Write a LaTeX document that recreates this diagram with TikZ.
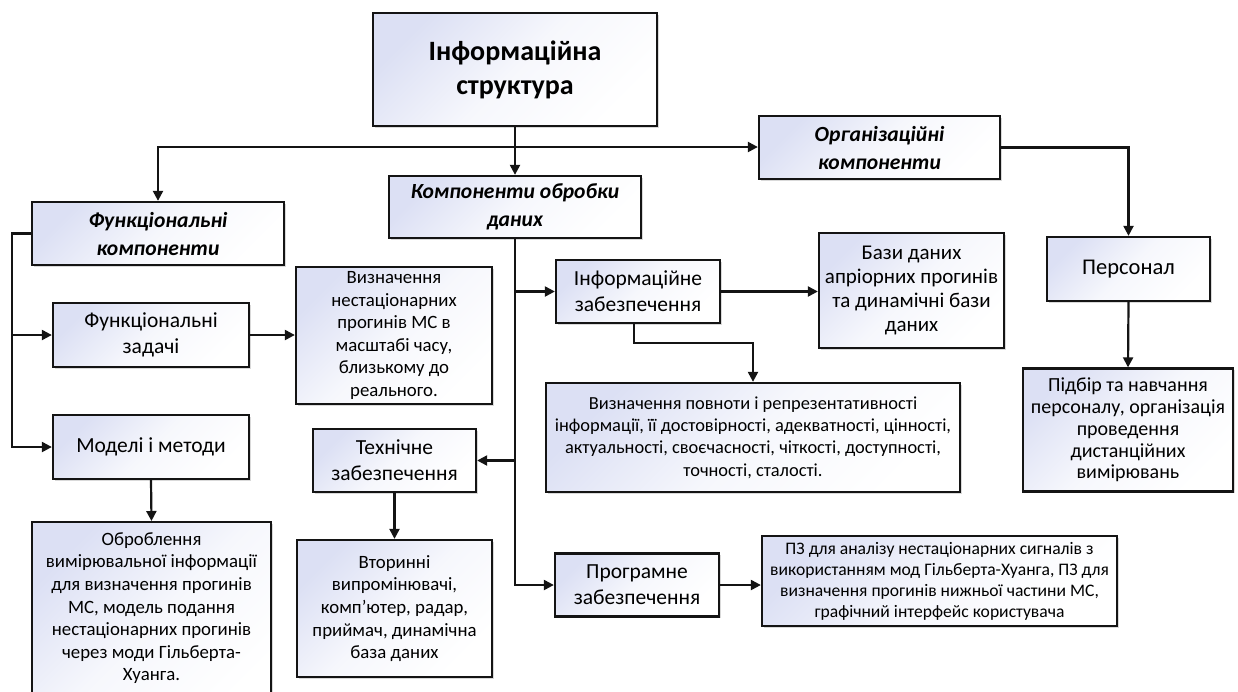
\documentclass[tikz,border=0pt]{standalone}
\usepackage{fontspec}
\setmainfont{Carlito}
\usetikzlibrary{arrows.meta,shadows}
\definecolor{boxtint}{RGB}{220,224,244}
\definecolor{edge}{RGB}{20,20,20}

\tikzset{
  box/.style={draw=edge, line width=2.3pt, top color=boxtint, bottom color=white,
    middle color=white!75!boxtint, shading angle=45, align=center, inner sep=1pt,
    drop shadow={shadow xshift=1.8pt, shadow yshift=-1.8pt, opacity=0.25, fill=black!60}},
  arr/.style={line width=2.2pt, draw=edge, -{Triangle[length=10pt,width=10pt]}},
  link/.style={line width=2.2pt, draw=edge},
  small/.style={font=\fontsize{18.8}{22.6}\selectfont},
  mid/.style={font=\fontsize{21.5}{26}\selectfont},
  head/.style={font=\fontsize{21.6}{28}\selectfont\bfseries\itshape},
  big/.style={font=\fontsize{28}{34}\selectfont\bfseries},
}

\begin{document}
\begin{tikzpicture}[x=1pt,y=-1pt]
\useasboundingbox (0,0) rectangle (1238,691);
\clip (0,0) rectangle (1238,691);

% top level
\node[box,big,minimum width=284pt,minimum height=113pt] (title) at (515,69.5) {Інформаційна\\структура};
\node[box,head,minimum width=252pt,minimum height=63pt] (fcomp) at (158,233.5) {Функціональні\\компоненти};
\node[box,head,minimum width=252pt,minimum height=62pt] (dcomp) at (515,207) {Компоненти обробки\\даних};
\node[box,head,minimum width=241pt,minimum height=63pt] (ocomp) at (879.5,147.5) {Організаційні\\компоненти};

% functional branch
\node[box,mid,minimum width=196pt,minimum height=64pt] (ftasks) at (151,335) {Функціональні\\задачі};
\node[box,small,minimum width=196pt,minimum height=137pt] (vyzn) at (394,335.5) {Визначення\\нестаціонарних\\прогинів МС в\\масштабі часу,\\близькому до\\реального.};
\node[box,mid,minimum width=196pt,minimum height=64pt] (models) at (151,447) {Моделі і методи};
\node[box,minimum width=239pt,minimum height=200pt,anchor=north] (obrob) at (151.5,521) {};
\node[small,align=center,anchor=north] (obrobtext) at ([yshift=-8pt]obrob.north) {Оброблення\\вимірювальної інформації\\для визначення прогинів\\МС, модель подання\\нестаціонарних прогинів\\через моди Гільберта-\\Хуанга.};

% data processing branch
\node[box,mid,minimum width=164pt,minimum height=63pt] (infoz) at (638,291.5) {Інформаційне\\забезпечення};
\node[box,font=\fontsize{21}{24}\selectfont,minimum width=185pt,minimum height=115pt] (bazy) at (911.5,290.5) {Бази даних\\апріорних прогинів\\та динамічні бази\\даних};
\node[box,font=\fontsize{18.4}{22.3}\selectfont,minimum width=414pt,minimum height=109pt] (povn) at (753,437.5) {Визначення повноти і репрезентативності\\інформації, її достовірності, адекватності, цінності,\\актуальності, своєчасності, чіткості, доступності,\\точності, сталості.};
\node[box,mid,minimum width=163pt,minimum height=63pt] (tech) at (394.5,460.5) {Технічне\\забезпечення};
\node[box,small,minimum width=195pt,minimum height=137pt] (vtor) at (394.5,608.5) {Вторинні\\випромінювачі,\\комп’ютер, радар,\\приймач, динамічна\\база даних};
\node[box,mid,minimum width=164pt,minimum height=63pt] (prog) at (637,585) {Програмне\\забезпечення};
\node[box,font=\fontsize{17.6}{21}\selectfont,minimum width=355pt,minimum height=90pt] (pz) at (939.5,581) {ПЗ для аналізу нестаціонарних сигналів з\\використанням мод Гільберта-Хуанга, ПЗ для\\визначення прогинів нижньої частини МС,\\графічний інтерфейс користувача};

% organisational branch
\node[box,font=\fontsize{22.5}{26}\selectfont,minimum width=163pt,minimum height=64pt] (pers) at (1128.5,269) {Персонал};
\node[box,font=\fontsize{20}{21.8}\selectfont,minimum width=210pt,minimum height=123pt] (pidb) at (1128,430) {Підбір та навчання\\персоналу, організація\\проведення\\дистанційних\\вимірювань};

% top bus
\coordinate (bus) at (515,147);
\draw[link] (title.south) -- (bus);
\draw[arr] (bus) -| (fcomp.north);
\draw[arr] (bus) -- (dcomp.north);
\draw[arr] (bus) -- (bus -| ocomp.west);

% functional branch links
\coordinate (lb) at (12,0);
\draw[arr] (fcomp.west) -- (fcomp.west -| lb) |- (models.west);
\draw[arr] (ftasks.west -| lb) -- (ftasks.west);
\draw[arr] (ftasks.east) -- (ftasks.east -| vyzn.west);
\draw[arr] (models.south) -- (obrob.north);

% data processing links
\draw[arr] (dcomp.south) |- (prog.west);
\draw[arr] (dcomp.south |- infoz.west) -- (infoz.west);
\draw[arr] (dcomp.south |- tech.east) -- (tech.east);
\draw[arr] (infoz.east) -- (infoz.east -| bazy.west);
\draw[arr] ([xshift=-4pt]infoz.south) -- ++(0,19) -| (povn.north);
\draw[arr] (tech.south) -- (vtor.north);
\draw[arr] (prog.east) -- (prog.east -| pz.west);

% organisational links
\draw[arr] (ocomp.east) -| (pers.north);
\draw[arr] (pers.south) -- (pidb.north);
\end{tikzpicture}
\end{document}
